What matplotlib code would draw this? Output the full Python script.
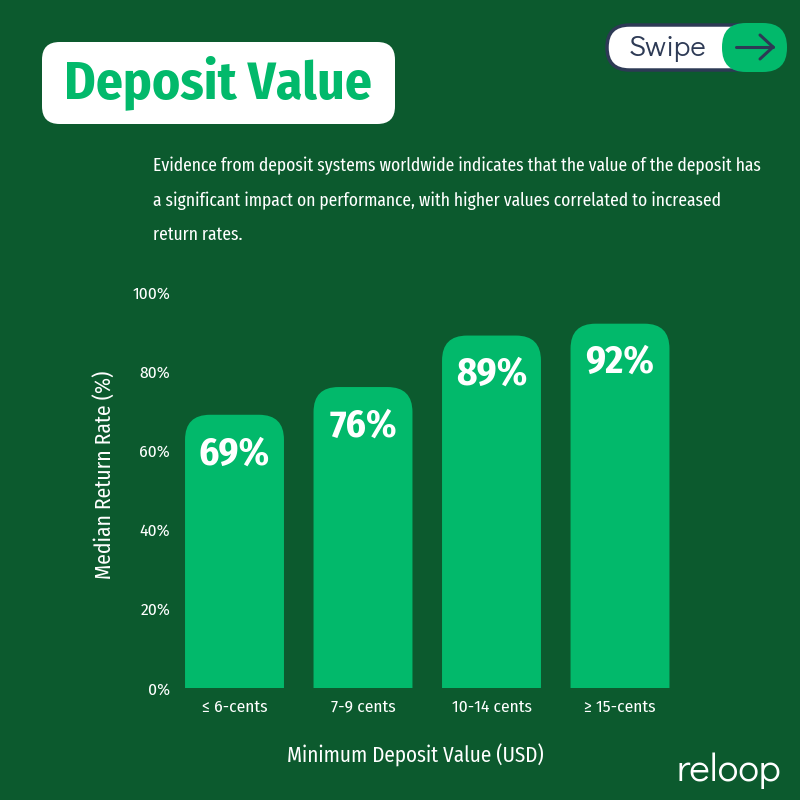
import numpy as np
import matplotlib.pyplot as plt
from matplotlib.patches import FancyBboxPatch
from matplotlib.lines import Line2D

# data
categories = ['\u2264 6-cents', '7-9 cents', '10-14 cents', '\u2265 15-cents']
return_rates = [69, 76, 89, 92]
y_ticks = [0, 20, 40, 60, 80, 100]

title = 'Deposit Value'
subtitle_lines = [
    'Evidence from deposit systems worldwide indicates that the value of the deposit has',
    'a significant impact on performance, with higher values correlated to increased',
    'return rates.',
]
x_label = 'Minimum Deposit Value (USD)'
y_label = 'Median Return Rate (%)'

BG = '#0c5a2e'
GREEN = '#02b96b'
NAVY = '#2d3a55'
NARROW = ['Fira Sans Condensed', 'DejaVu Sans']
XNARROW = ['Fira Sans Extra Condensed', 'Fira Sans Condensed', 'DejaVu Sans']
ROUND = ['Didact Gothic', 'DejaVu Sans']

W = H = 800


def fx(px):
    return px / W


def fy(py):
    return 1 - py / H


fig = plt.figure(figsize=(8, 8), dpi=100, facecolor=BG)

# title box
fig.patches.append(FancyBboxPatch((fx(42), fy(124)), fx(395) - fx(42), fy(42) - fy(124),
                                  boxstyle='round,pad=0,rounding_size=0.022',
                                  transform=fig.transFigure, facecolor='white',
                                  edgecolor='none'))
fig.text(fx(218), fy(83), title, color=GREEN, fontsize=38.5, fontweight='bold',
         family=NARROW, ha='center', va='center')

# subtitle
for i, line in enumerate(subtitle_lines):
    fig.text(fx(153), fy(166 + 34.5 * i), line, color='white', fontsize=13.7,
             family=XNARROW, ha='left', va='center')

# swipe button
fig.patches.append(FancyBboxPatch((fx(607), fy(70)), fx(785) - fx(607), fy(25) - fy(70),
                                  boxstyle='round,pad=0,rounding_size=0.028',
                                  transform=fig.transFigure, facecolor='white',
                                  edgecolor=NAVY, linewidth=2.5))
fig.patches.append(FancyBboxPatch((fx(722), fy(72)), fx(787) - fx(722), fy(23) - fy(72),
                                  boxstyle='round,pad=0,rounding_size=0.03',
                                  transform=fig.transFigure, facecolor=GREEN,
                                  edgecolor='none'))
fig.text(fx(668), fy(48), 'Swipe', color=NAVY, fontsize=21, family=ROUND,
         ha='center', va='center')
for xs, ys in [((736, 773), (47, 47)), ((760, 773), (35, 47)), ((760, 773), (59, 47))]:
    fig.lines.append(Line2D([fx(x) for x in xs], [fy(y) for y in ys], color=NAVY,
                            linewidth=2.2, solid_capstyle='round',
                            transform=fig.transFigure))

# logo
fig.text(fx(729), fy(771), 'reloop', color='white', fontsize=28,
         family=ROUND, ha='center', va='center')

# chart
ax = fig.add_axes([fx(170.25), fy(688), fx(684.25) - fx(170.25), fy(292) - fy(688)])
ax.set_facecolor(BG)
ax.set_xlim(-0.5, len(categories) - 0.5)
ax.set_ylim(0, 100)

bar_w = 0.77
px_x = (684.25 - 170.25) / len(categories)   # pixels per x unit
px_y = (688 - 292) / 100.0                   # pixels per y unit
r_px = 25
r_x = r_px / px_x
aspect = (r_px / px_y) / r_x
for i, v in enumerate(return_rates):
    p = FancyBboxPatch((i - bar_w / 2, -20), bar_w, v + 20,
                       boxstyle='round,pad=0,rounding_size=%f' % r_x,
                       mutation_aspect=aspect, facecolor=GREEN, edgecolor='none')
    ax.add_patch(p)
    ax.text(i, v - 5.2, '%d%%' % v, color='white', fontsize=28, fontweight='bold',
            family=NARROW, ha='center', va='top')

ax.set_xticks(range(len(categories)))
ax.set_xticklabels(categories, family=NARROW, fontsize=12.5, color='white')
ax.set_yticks(y_ticks)
ax.set_yticklabels(['%d%%' % t for t in y_ticks], family=NARROW, fontsize=12.5, color='white')
ax.tick_params(axis='both', length=0)
ax.tick_params(axis='x', pad=8)
ax.tick_params(axis='y', pad=0)
for s in ax.spines.values():
    s.set_visible(False)

fig.text(fx(104), fy(475), y_label, color='white', fontsize=15.5, family=NARROW,
         rotation=90, ha='center', va='center')
fig.text(fx(415), fy(755), x_label, color='white', fontsize=15.2, family=NARROW,
         ha='center', va='center')

fig.savefig('out.png', dpi=100, facecolor=BG)
